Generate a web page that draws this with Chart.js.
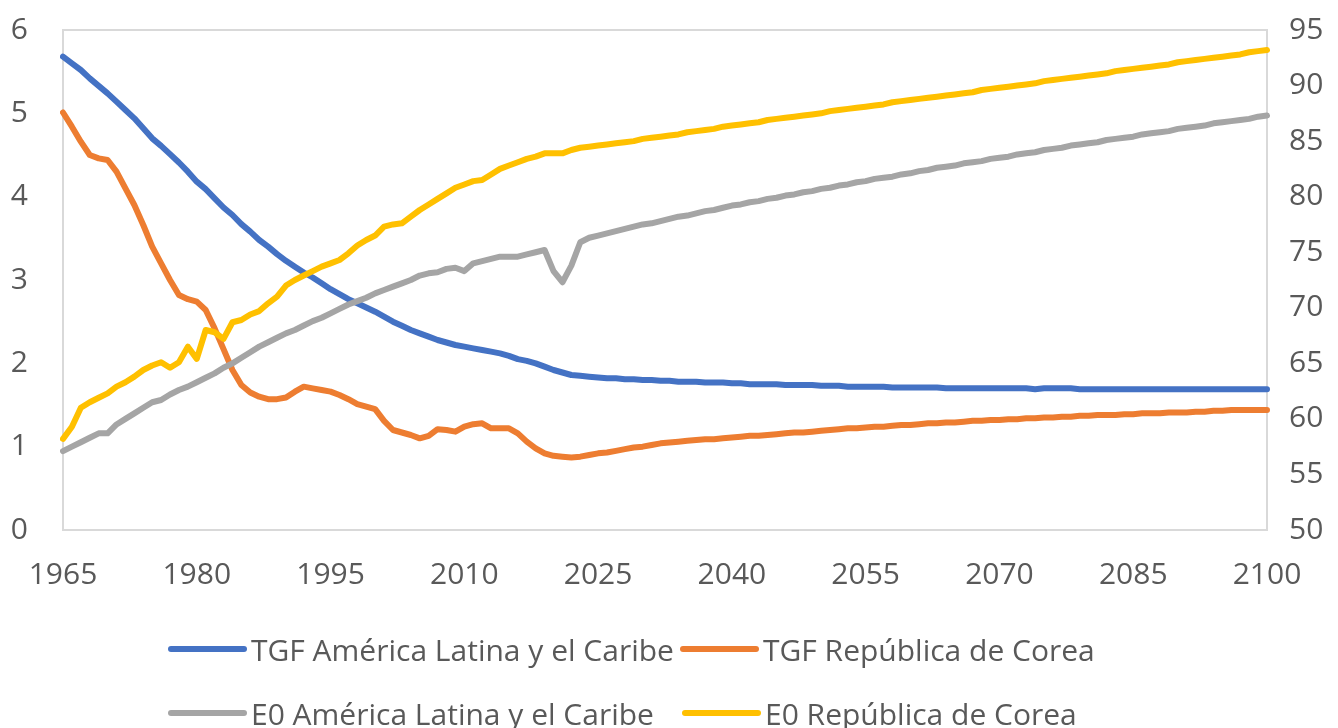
<!DOCTYPE html>
<html>
<head>
<meta charset="utf-8">
<script src="https://cdn.jsdelivr.net/npm/chart.js@4.4.1/dist/chart.umd.min.js"></script>
<style>
    html, body { margin: 0; padding: 0; background: #fff; }
    #wrap { position: relative; width: 1338px; height: 728px; }
    #legend { position: absolute; left: 0; top: 0; width: 1338px; height: 728px; pointer-events: none;
              font-family: "Open Sans", sans-serif; font-size: 30px; color: #595959; }
    .lg-item { position: absolute; display: flex; align-items: center; height: 40px; white-space: nowrap; }
    .lg-line { width: 79px; height: 6px; border-radius: 3px; margin-right: 4px; }
</style>
</head>
<body>
<div id="wrap">
    <canvas id="chart"></canvas>
    <div id="legend"></div>
</div>
<script>
// --- DATA ---
const years = Array.from({ length: 136 }, (_, i) => 1965 + i);
const xTickLabels = [1965, 1980, 1995, 2010, 2025, 2040, 2055, 2070, 2085, 2100];
const leftTicks = [0, 1, 2, 3, 4, 5, 6];
const rightTicks = [50, 55, 60, 65, 70, 75, 80, 85, 90, 95];

const seriesNames = [
    'TGF América Latina y el Caribe',
    'TGF República de Corea',
    'E0 América Latina y el Caribe',
    'E0 República de Corea',
];

const tgfAlc = [
    5.68, 5.60, 5.52, 5.42, 5.33, 5.24, 5.14, 5.04, 4.94, 4.82,
    4.70, 4.61, 4.51, 4.41, 4.30, 4.18, 4.09, 3.98, 3.87, 3.78,
    3.67, 3.58, 3.48, 3.40, 3.31, 3.23, 3.16, 3.09, 3.03, 2.96,
    2.89, 2.83, 2.77, 2.72, 2.67, 2.62, 2.56, 2.50, 2.45, 2.40,
    2.36, 2.32, 2.28, 2.25, 2.22, 2.20, 2.18, 2.16, 2.14, 2.12,
    2.09, 2.05, 2.03, 2.00, 1.96, 1.92, 1.89, 1.86, 1.85, 1.84,
    1.83, 1.82, 1.82, 1.81, 1.81, 1.80, 1.80, 1.79, 1.79, 1.78,
    1.78, 1.78, 1.77, 1.77, 1.77, 1.76, 1.76, 1.75, 1.75, 1.75,
    1.75, 1.74, 1.74, 1.74, 1.74, 1.73, 1.73, 1.73, 1.72, 1.72,
    1.72, 1.72, 1.72, 1.71, 1.71, 1.71, 1.71, 1.71, 1.71, 1.70,
    1.70, 1.70, 1.70, 1.70, 1.70, 1.70, 1.70, 1.70, 1.70, 1.69,
    1.70, 1.70, 1.70, 1.70, 1.69, 1.69, 1.69, 1.69, 1.69, 1.69,
    1.69, 1.69, 1.69, 1.69, 1.69, 1.69, 1.69, 1.69, 1.69, 1.69,
    1.69, 1.69, 1.69, 1.69, 1.69, 1.69,
];

const tgfKorea = [
    5.01, 4.84, 4.66, 4.50, 4.46, 4.44, 4.30, 4.10, 3.90, 3.66,
    3.40, 3.20, 3.00, 2.82, 2.77, 2.74, 2.64, 2.42, 2.17, 1.92,
    1.74, 1.65, 1.60, 1.57, 1.57, 1.59, 1.66, 1.72, 1.70, 1.68,
    1.66, 1.62, 1.57, 1.51, 1.48, 1.45, 1.31, 1.20, 1.17, 1.14,
    1.10, 1.13, 1.21, 1.20, 1.18, 1.24, 1.27, 1.28, 1.22, 1.22,
    1.22, 1.16, 1.06, 0.98, 0.92, 0.89, 0.88, 0.87, 0.88, 0.90,
    0.92, 0.93, 0.95, 0.97, 0.99, 1.00, 1.02, 1.04, 1.05, 1.06,
    1.07, 1.08, 1.09, 1.09, 1.10, 1.11, 1.12, 1.13, 1.13, 1.14,
    1.15, 1.16, 1.17, 1.17, 1.18, 1.19, 1.20, 1.21, 1.22, 1.22,
    1.23, 1.24, 1.24, 1.25, 1.26, 1.26, 1.27, 1.28, 1.28, 1.29,
    1.29, 1.30, 1.31, 1.31, 1.32, 1.32, 1.33, 1.33, 1.34, 1.34,
    1.35, 1.35, 1.36, 1.36, 1.37, 1.37, 1.38, 1.38, 1.38, 1.39,
    1.39, 1.40, 1.40, 1.40, 1.41, 1.41, 1.41, 1.42, 1.42, 1.43,
    1.43, 1.44, 1.44, 1.44, 1.44, 1.44,
];

const e0Alc = [
    57.1, 57.5, 57.9, 58.3, 58.7, 58.7, 59.5, 60.0, 60.5, 61.0,
    61.5, 61.7, 62.2, 62.6, 62.9, 63.3, 63.7, 64.1, 64.6, 65.0,
    65.5, 66.0, 66.5, 66.9, 67.3, 67.7, 68.0, 68.4, 68.8, 69.1,
    69.5, 69.9, 70.3, 70.6, 70.9, 71.3, 71.6, 71.9, 72.2, 72.5,
    72.9, 73.1, 73.2, 73.5, 73.6, 73.3, 74.0, 74.2, 74.4, 74.6,
    74.6, 74.6, 74.8, 75.0, 75.2, 73.3, 72.3, 73.8, 75.9, 76.3,
    76.5, 76.7, 76.9, 77.1, 77.3, 77.5, 77.6, 77.8, 78.0, 78.2,
    78.3, 78.5, 78.7, 78.8, 79.0, 79.2, 79.3, 79.5, 79.6, 79.8,
    79.9, 80.1, 80.2, 80.4, 80.5, 80.7, 80.8, 81.0, 81.1, 81.3,
    81.4, 81.6, 81.7, 81.8, 82.0, 82.1, 82.3, 82.4, 82.6, 82.7,
    82.8, 83.0, 83.1, 83.2, 83.4, 83.5, 83.6, 83.8, 83.9, 84.0,
    84.2, 84.3, 84.4, 84.6, 84.7, 84.8, 84.9, 85.1, 85.2, 85.3,
    85.4, 85.6, 85.7, 85.8, 85.9, 86.1, 86.2, 86.3, 86.4, 86.6,
    86.7, 86.8, 86.9, 87.0, 87.2, 87.3,
];

const e0Korea = [
    58.2, 59.3, 61.0, 61.5, 61.9, 62.3, 62.9, 63.3, 63.8, 64.4,
    64.8, 65.1, 64.6, 65.1, 66.5, 65.4, 68.0, 67.8, 67.2, 68.7,
    68.9, 69.4, 69.7, 70.4, 71.0, 72.0, 72.5, 72.9, 73.3, 73.7,
    74.0, 74.3, 74.9, 75.6, 76.1, 76.5, 77.3, 77.5, 77.6, 78.2,
    78.8, 79.3, 79.8, 80.3, 80.8, 81.1, 81.4, 81.5, 82.0, 82.5,
    82.8, 83.1, 83.4, 83.6, 83.9, 83.9, 83.9, 84.2, 84.4, 84.5,
    84.6, 84.7, 84.8, 84.9, 85.0, 85.2, 85.3, 85.4, 85.5, 85.6,
    85.8, 85.9, 86.0, 86.1, 86.3, 86.4, 86.5, 86.6, 86.7, 86.9,
    87.0, 87.1, 87.2, 87.3, 87.4, 87.5, 87.7, 87.8, 87.9, 88.0,
    88.1, 88.2, 88.3, 88.5, 88.6, 88.7, 88.8, 88.9, 89.0, 89.1,
    89.2, 89.3, 89.4, 89.6, 89.7, 89.8, 89.9, 90.0, 90.1, 90.2,
    90.4, 90.5, 90.6, 90.7, 90.8, 90.9, 91.0, 91.1, 91.3, 91.4,
    91.5, 91.6, 91.7, 91.8, 91.9, 92.1, 92.2, 92.3, 92.4, 92.5,
    92.6, 92.7, 92.8, 93.0, 93.1, 93.2,
];

const colors = ['#4472C4', '#ED7D31', '#A5A5A5', '#FFC000'];

// --- FRAME AROUND PLOT AREA ---
const frame = {
    id: 'frame',
    beforeDatasetsDraw(chart) {
        const { ctx, chartArea: a } = chart;
        ctx.save();
        ctx.strokeStyle = '#D9D9D9';
        ctx.lineWidth = 2;
        ctx.strokeRect(a.left, a.top, a.right - a.left, a.bottom - a.top);
        ctx.restore();
    },
};

function line(i, data, axis, order) {
    return {
        label: seriesNames[i], data, yAxisID: axis, order,
        borderColor: colors[i], backgroundColor: colors[i],
        borderWidth: 6, pointRadius: 0, tension: 0,
        borderCapStyle: 'round', borderJoinStyle: 'round',
    };
}

const tickFont = { family: '"Open Sans", sans-serif', size: 30 };

// tick padding would otherwise push the plot area down / inwards
function fixSize(w, h) {
    return s => {
        if (w) s.width = w;
        if (h) s.height = h;
        s.paddingTop = 0; s.paddingBottom = 0; s.paddingLeft = 0; s.paddingRight = 0;
    };
}

const chart = new Chart(document.getElementById('chart'), {
    type: 'line',
    data: {
        labels: years,
        datasets: [
            line(0, tgfAlc, 'yL', 3),
            line(1, tgfKorea, 'yL', 2),
            line(2, e0Alc, 'yR', 1),
            line(3, e0Korea, 'yR', 0),
        ],
    },
    options: {
        responsive: true,
        maintainAspectRatio: false,
        animation: false,
        layout: { padding: { top: 30, left: 0, right: 0, bottom: 0 } },
        plugins: { legend: { display: false }, tooltip: { enabled: false } },
        scales: {
            x: {
                type: 'category',
                offset: false,
                grid: { display: false, drawTicks: false },
                border: { display: false },
                ticks: {
                    autoSkip: false, maxRotation: 0, padding: 27,
                    color: '#595959', font: tickFont,
                    callback: (v, i) => xTickLabels.includes(years[i]) ? String(years[i]) : null,
                },
                afterFit: fixSize(0, 198),
            },
            yL: {
                position: 'left', min: 0, max: 6,
                grid: { display: false, drawTicks: false },
                border: { display: false },
                ticks: { padding: 35, color: '#595959', font: tickFont },
                afterBuildTicks: s => { s.ticks = leftTicks.map(v => ({ value: v })); },
                afterFit: fixSize(63, 0),
            },
            yR: {
                position: 'right', min: 50, max: 95,
                grid: { display: false, drawTicks: false },
                border: { display: false },
                ticks: { padding: 22, color: '#595959', font: tickFont },
                afterBuildTicks: s => { s.ticks = rightTicks.map(v => ({ value: v })); },
                afterFit: fixSize(71, 0),
            },
        },
    },
    plugins: [frame],
});

// --- LEGEND (two rows, two aligned columns) ---
const legendSpots = [
    { left: 168, top: 629 }, { left: 680, top: 629 },
    { left: 168, top: 693 }, { left: 682, top: 693 },
];
document.getElementById('legend').innerHTML = chart.data.datasets.map((ds, i) => `
    <div class="lg-item" style="left:${legendSpots[i].left}px;top:${legendSpots[i].top}px">
        <span class="lg-line" style="background:${ds.borderColor}"></span>${ds.label}
    </div>`).join('');
</script>
</body>
</html>
